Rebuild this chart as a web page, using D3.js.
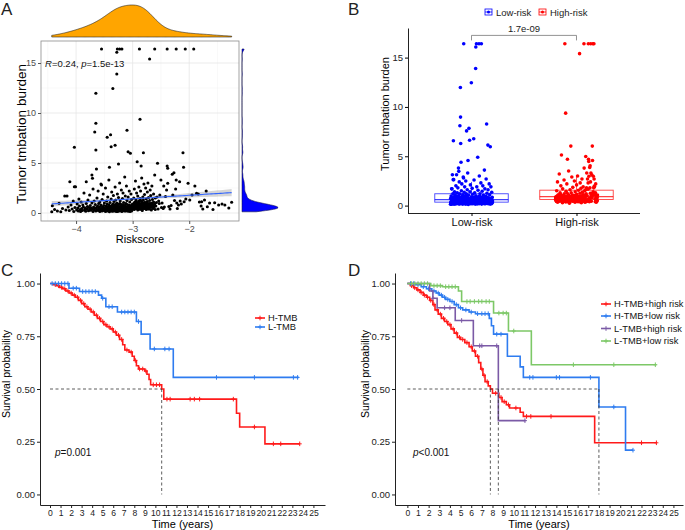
<!DOCTYPE html>
<html><head><meta charset="utf-8">
<script src="https://cdn.jsdelivr.net/npm/d3@7"></script>
<style>body{margin:0;background:#fff}svg{font-family:"Liberation Sans",Arial,sans-serif}</style>
</head><body><svg id="c" width="685" height="530"></svg>
<script>
// ---------------- DATA ----------------
const riskCutoff = -3.0;
const groupNames = ["Low-risk", "High-risk"];
// [riskscore, tumor mutation burden]
const scatterPoints = [
[-4.43,0.13],[-4.42,0.73],[-4.38,0.35],[-4.33,0.2],[-4.30,0.97],[-4.27,0.13],[-4.24,0.45],[-4.2,1.7],[-4.18,0.3],[-4.16,1.7],[-4.14,0.6],[-4.12,0.25],[-4.11,3.13],[-4.09,0.8],[-4.07,0.4],[-4.05,1.2],[-4.04,0.15],[-4.03,2.63],[-4.01,2.63],[-4.02,0.55],[-4.03,6.57],
[-3.99,0.3],[-3.98,0.9],[-3.97,0.5],[-3.96,0.2],[-3.95,1.4],[-3.94,0.7],[-3.93,0.35],[-3.92,0.15],[-3.91,1.1],[-3.90,0.45],[-3.89,0.25],[-3.88,0.8],[-3.87,0.6],[-3.86,2.0],[-3.85,0.3],[-3.84,0.5],[-3.83,0.18],[-3.82,3.13],[-3.82,0.95],[-3.81,0.4],[-3.80,0.65],[-3.79,1.3],[-3.78,0.22],[-3.77,0.55],[-3.76,0.35],[-3.76,1.8],[-3.75,0.75],[-3.74,0.28],[-3.73,0.5],[-3.72,3.8],[-3.71,3.47],[-3.72,1.0],[-3.71,0.4],[-3.70,0.15],[-3.70,2.4],
[-3.69,0.6],[-3.68,0.3],[-3.68,1.2],[-3.67,8.1],[-3.67,0.45],[-3.66,0.85],[-3.65,11.97],[-3.65,8.97],[-3.65,6.3],[-3.64,4.4],[-3.65,0.2],[-3.64,0.55],[-3.63,1.5],[-3.63,0.35],[-3.62,0.7],[-3.61,2.2],[-3.61,0.25],[-3.60,0.5],[-3.60,0.95],[-3.59,0.4],[-3.58,0.15],[-3.58,1.1],[-3.57,0.65],[-3.57,0.3],[-3.56,2.9],[-3.56,0.8],[-3.55,2.8],[-3.55,16.4],[-3.55,0.45],[-3.54,0.2],[-3.54,1.35],[-3.53,0.6],[-3.52,0.35],[-3.52,1.9],[-3.51,0.75],[-3.51,0.25],[-3.50,0.5],[-3.50,1.0],[-3.49,0.4],[-3.48,0.15],[-3.48,2.5],[-3.47,0.7],[-3.47,0.3],[-3.46,1.2],[-3.46,0.55],[-3.45,7.57],[-3.45,0.9],[-3.45,0.2],[-3.44,0.45],[-3.44,1.6],[-3.43,0.65],[-3.43,0.3],[-3.42,3.3],[-3.42,0.8],[-3.41,4.57],[-3.41,0.4],[-3.41,0.12],[-3.40,1.05],[-3.40,0.55],[-3.39,7.83],[-3.39,0.25],
[-3.38,6.63],[-3.38,0.7],[-3.38,1.4],[-3.37,0.35],[-3.37,2.1],[-3.36,0.5],[-3.36,0.18],[-3.35,12.45],[-3.35,0.9],[-3.35,0.6],[-3.34,1.75],[-3.34,0.3],[-3.33,0.45],[-3.33,1.15],[-3.32,0.8],[-3.32,0.22],[-3.31,6.77],[-3.31,0.55],[-3.31,2.6],[-3.30,0.4],[-3.30,1.3],[-3.29,0.65],[-3.29,0.15],[-3.28,13.9],[-3.28,16.07],[-3.28,1.0],[-3.28,0.35],[-3.27,16.4],[-3.27,0.5],[-3.27,1.9],[-3.26,0.75],[-3.26,0.25],[-3.25,4.9],[-3.25,0.6],[-3.25,1.55],[-3.24,0.4],[-3.24,0.9],[-3.23,16.4],[-3.23,0.2],[-3.23,3.0],[-3.22,0.55],[-3.22,1.2],[-3.21,0.7],[-3.21,0.3],[-3.20,2.3],[-3.20,0.45],[-3.19,16.4],[-3.19,0.85],[-3.19,0.15],[-3.18,1.45],[-3.18,0.6],[-3.17,0.35],[-3.17,2.0],[-3.16,0.5],[-3.16,1.05],[-3.15,0.25],[-3.15,0.75],[-3.14,3.6],[-3.14,0.4],[-3.13,1.7],[-3.13,0.6],[-3.12,0.2],[-3.12,0.95],[-3.11,0.5],[-3.11,2.7],[-3.10,8.27],[-3.10,0.3],[-3.10,1.25],[-3.09,0.65],[-3.09,0.45],[-3.08,6.13],[-3.08,1.6],[-3.08,0.18],[-3.07,0.8],[-3.07,0.35],[-3.06,2.2],[-3.06,0.55],[-3.05,1.1],[-3.05,0.28],[-3.04,5.97],[-3.04,0.7],[-3.04,0.42],[-3.03,1.9],[-3.03,0.6],[-3.02,0.2],[-3.02,1.35],[-3.01,0.5],[-3.01,0.85],
[-3.395,0.42],[-3.385,0.28],[-3.375,0.62],[-3.365,0.75],[-3.355,0.33],[-3.345,0.52],[-3.335,0.2],[-3.325,0.68],[-3.315,0.4],[-3.305,0.85],[-3.295,0.3],[-3.285,0.58],[-3.275,0.45],[-3.265,0.16],[-3.255,0.72],[-3.245,0.36],[-3.235,0.55],[-3.225,0.95],[-3.215,0.25],[-3.205,0.64],[-3.195,0.48],[-3.185,0.3],[-3.175,0.78],[-3.165,0.38],[-3.155,0.58],[-3.145,0.2],[-3.135,0.7],[-3.125,0.43],[-3.115,0.88],[-3.105,0.33],[-3.095,0.6],[-3.085,0.26],[-3.075,0.5],[-3.065,0.74],[-3.055,0.4],[-3.045,0.15],[-3.035,0.62],[-3.025,0.35],[-3.015,0.8],[-3.005,0.46],
[-3.39,0.58],[-3.37,0.22],[-3.35,0.4],[-3.33,0.66],[-3.31,0.3],[-3.29,0.5],[-3.27,0.82],[-3.25,0.27],[-3.23,0.45],[-3.21,0.6],[-3.19,0.38],[-3.17,0.7],[-3.15,0.5],[-3.13,0.32],[-3.11,0.9],[-3.09,0.55],[-3.07,0.24],[-3.05,0.65],[-3.03,0.4],[-3.01,0.3],
[-2.99,0.9],[-2.99,0.5],[-2.98,1.5],[-2.98,0.7],[-2.97,2.4],[-2.97,0.35],[-2.96,1.1],[-2.96,0.6],[-2.95,0.85],[-2.95,3.2],[-2.94,0.45],[-2.94,1.3],[-2.93,0.75],[-2.93,2.0],[-2.92,5.13],[-2.92,0.55],[-2.92,1.0],[-2.91,0.3],[-2.91,1.7],[-2.90,0.95],[-2.90,0.65],[-2.89,2.6],[-2.89,1.2],[-2.88,16.4],[-2.88,0.5],[-2.87,9.37],[-2.87,0.8],[-2.87,1.45],[-2.86,0.4],[-2.86,2.2],[-2.85,4.7],[-2.85,0.9],[-2.85,0.6],[-2.84,1.1],[-2.84,3.5],[-2.83,0.7],[-2.83,0.25],[-2.82,1.6],[-2.82,0.85],[-2.81,6.03],[-2.81,0.55],[-2.81,1.3],[-2.80,2.9],[-2.80,0.95],[-2.79,0.45],[-2.79,1.85],[-2.78,0.75],[-2.78,1.05],[-2.77,0.6],[-2.77,2.5],[-2.76,0.35],[-2.76,1.4],[-2.75,0.9],[-2.75,0.65],[-2.74,2.1],[-2.74,1.15],[-2.73,0.5],[-2.73,3.0],[-2.72,0.8],[-2.72,1.55],[-2.71,0.7],[-2.70,15.4],[-2.70,0.4],[-2.70,1.25],[-2.69,2.3],[-2.69,0.95],[-2.68,0.6],[-2.68,1.75],[-2.67,0.85],[-2.67,0.3],[-2.66,1.0],[-2.66,2.7],[-2.65,0.55],[-2.65,1.35],[-2.64,0.75],[-2.64,0.45],[-2.63,1.9],[-2.63,1.1],[-2.62,0.65],[-2.61,16.4],[-2.61,3.8],[-2.61,0.9],[-2.60,1.5],[-2.60,0.35],
[-2.995,0.78],[-2.985,0.42],[-2.975,1.0],[-2.965,0.62],[-2.955,0.88],[-2.945,0.55],[-2.935,1.15],[-2.925,0.7],[-2.915,0.48],[-2.905,0.82],[-2.895,0.6],[-2.885,0.95],[-2.875,0.38],[-2.865,0.72],[-2.855,1.25],[-2.845,0.52],[-2.835,0.86],[-2.825,0.65],[-2.815,0.45],[-2.805,0.78],[-2.795,1.05],[-2.785,0.58],[-2.775,0.88],[-2.765,0.5],[-2.755,0.7],[-2.745,0.95],[-2.735,0.6],[-2.725,0.4],[-2.715,0.8],[-2.705,0.66],
[-2.998,0.62],[-2.988,0.85],[-2.978,0.48],[-2.968,0.75],[-2.958,0.95],[-2.948,0.68],[-2.938,0.52],[-2.928,0.88],[-2.918,0.72],[-2.908,0.42],[-2.898,1.02],[-2.888,0.64],[-2.878,0.8],[-2.868,0.56],[-2.858,0.92],[-2.848,0.7],[-2.838,0.46],[-2.828,0.98],[-2.818,0.6],[-2.808,0.84],[-2.798,0.66],[-2.788,0.5],[-2.778,0.9],[-2.768,0.74],[-2.758,0.58],[-2.748,1.08],[-2.738,0.68],[-2.728,0.8],[-2.718,0.54],[-2.708,0.94],
[-2.69,0.62],[-2.67,0.78],[-2.65,0.9],[-2.63,0.55],[-2.61,0.72],
[-2.59,0.7],[-2.58,1.05],[-2.57,1.6],[-2.56,4.97],[-2.55,0.4],[-2.54,1.2],[-2.53,0.95],[-2.52,1.8],[-2.50,3.3],[-2.49,0.55],[-2.48,1.0],[-2.46,0.45],[-2.45,2.7],[-2.44,0.6],[-2.42,1.65],[-2.40,2.3],[-2.39,16.4],[-2.39,4.7],[-2.38,4.47],[-2.38,2.97],[-2.36,0.65],[-2.34,0.4],[-2.32,0.75],[-2.30,3.87],[-2.29,1.8],[-2.27,4.03],[-2.26,1.25],[-2.24,2.4],[-2.23,16.4],[-2.23,3.3],[-2.22,1.0],[-2.21,0.45],
[-2.19,0.8],[-2.17,3.13],[-2.16,1.2],[-2.14,0.9],[-2.11,6.03],[-2.10,4.57],[-2.09,1.13],[-2.07,16.4],[-2.06,1.4],[-2.02,2.97],[-1.99,1.3],[-1.95,1.8],[-1.92,16.4],[-1.90,2.7],[-1.87,1.97],[-1.84,1.9],[-1.82,1.1],
[-1.79,0.7],[-1.78,1.13],[-1.76,0.4],[-1.73,1.3],[-1.70,2.2],[-1.68,0.63],[-1.64,1.0],[-1.58,0.35],[-1.55,1.03],[-1.48,0.8],[-1.42,0.9],[-1.37,0.8],[-1.30,0.5],[-1.25,1.07]
];
const aXTicks = [-4, -3, -2];
const aXMinor = [-4.5, -3.5, -2.5, -1.5];
const aYTicks = [0, 5, 10, 15];
const aYMinor = [2.5, 7.5, 12.5];
const corR = "0.24", corP = "1.5e-13";
// linear fit: [intercept, slope], and confidence half-width terms [at centre, per unit distance]
const fitCoef = [2.48, 0.354];
const fitCentre = -3.05;
const fitSE = [0.09, 0.19];
const bYTicks = [0, 5, 10, 15];
const bTestP = "1.7e-09";
const bBracketY = 17.25;

const timeTicks = [0,1,2,3,4,5,6,7,8,9,10,11,12,13,14,15,16,17,18,19,20,21,22,23,24,25];
const survTicks = [0, 0.25, 0.5, 0.75, 1];

// Panel C
const cHighSteps = [[0,1],[0.3,0.995],[0.6,0.99],[0.9,0.982],[1.2,0.975],[1.5,0.965],[1.8,0.955],[2.1,0.945],[2.4,0.935],[2.7,0.92],[3.0,0.905],[3.3,0.89],[3.6,0.878],[3.9,0.865],[4.2,0.85],[4.5,0.835],[4.8,0.82],[5.1,0.805],[5.4,0.795],[5.7,0.785],[6.0,0.77],[6.3,0.755],[6.6,0.735],[6.9,0.71],[7.1,0.685],[7.5,0.675],[7.8,0.655],[8.0,0.635],[8.2,0.61],[8.4,0.595],[9.0,0.585],[9.2,0.57],[9.4,0.545],[9.55,0.52],[10.6,0.50],[10.8,0.452],[17.7,0.385],[18.0,0.32],[20.4,0.24]];
const cHighEnd = 23.7;
const cHighCensor = [0.5,0.8,1.1,1.4,1.7,2.0,2.3,2.6,2.9,3.2,3.5,3.8,4.1,4.4,4.7,5.0,5.3,5.6,5.9,6.2,6.5,6.8,7.3,7.7,8.1,8.5,8.8,9.1,9.8,10.1,10.4,11.1,11.4,13.3,13.7,14.2,17.4,19.4,21.2,21.9,23.7];
const cLowSteps = [[0,1],[1.8,0.978],[2.8,0.962],[4.6,0.945],[4.9,0.93],[5.3,0.89],[6.4,0.865],[8.2,0.82],[8.65,0.76],[9.5,0.69],[11.7,0.555]];
const cLowEnd = 23.6;
const cLowCensor = [0.2,0.5,0.8,1.1,1.4,1.7,2.2,2.5,3.1,3.4,3.7,4.0,4.3,5.0,5.6,5.9,6.8,7.1,7.4,7.7,8.0,8.4,9.9,10.9,11.3,15.8,19.4,23.1,23.5];
const cLabels = ["H-TMB", "L-TMB"];
const cPText = "=0.001";

// Panel D
const dHHSteps = [[0,1],[0.3,0.99],[0.6,0.98],[0.9,0.97],[1.2,0.958],[1.5,0.945],[1.8,0.935],[2.1,0.92],[2.4,0.9],[2.6,0.875],[2.9,0.855],[3.2,0.835],[3.5,0.82],[3.8,0.805],[4.1,0.785],[4.4,0.765],[4.7,0.745],[5.0,0.735],[5.4,0.72],[5.8,0.70],[6.1,0.68],[6.4,0.655],[6.7,0.625],[6.9,0.595],[7.1,0.565],[7.3,0.535],[7.6,0.515],[7.8,0.5],[8.0,0.48],[8.6,0.46],[8.9,0.44],[9.3,0.425],[9.6,0.41],[10.6,0.39],[10.9,0.37],[17.6,0.245]];
const dHHEnd = 23.4;
const dHHCensor = [0.4,0.7,1.0,1.3,1.6,1.9,2.2,2.5,2.8,3.1,3.4,3.7,4.0,4.3,4.6,4.9,5.2,5.6,6.0,6.3,6.6,7.0,7.2,7.5,8.3,8.8,9.1,9.5,10.2,11.2,11.6,13.5,22.0,23.4];
const dHLSteps = [[0,1],[0.8,0.995],[1.3,0.985],[1.8,0.975],[2.3,0.965],[2.7,0.955],[3.0,0.945],[3.3,0.935],[3.6,0.925],[4.0,0.915],[4.4,0.9],[4.8,0.885],[5.2,0.875],[5.8,0.865],[6.4,0.857],[7.7,0.835],[7.9,0.80],[8.1,0.76],[9.4,0.655],[10.6,0.605],[10.9,0.555],[18.0,0.415],[20.5,0.21]];
const dHLEnd = 21.2;
const dHLCensor = [0.3,0.6,1.0,1.5,2.0,2.5,2.9,3.2,3.5,3.8,4.2,4.6,5.0,5.5,6.0,6.6,7.0,7.3,7.6,8.4,8.8,11.5,11.8,14.0,14.3,17.2,19.4,21.2];
const dLHSteps = [[0,1],[2.1,0.965],[2.4,0.93],[2.8,0.885],[4.5,0.825],[6.2,0.705],[8.55,0.35]];
const dLHEnd = 11.1;
const dLHCensor = [2.4,3.5,4.0,5.1,6.8,7.0,8.4,11.05];
const dLLSteps = [[0,1],[2.2,0.99],[3.3,0.985],[4.8,0.965],[5.1,0.915],[8.1,0.86],[9.5,0.775],[11.65,0.615]];
const dLLEnd = 23.4;
const dLLCensor = [0.4,0.7,1.0,1.3,1.6,1.9,2.5,2.8,3.1,3.6,3.9,4.2,4.5,5.6,5.9,6.3,6.7,7.0,7.4,7.7,8.6,9.0,9.3,10.0,15.6,19.4,23.3];
const dLabels = ["H-TMB+high risk", "H-TMB+low risk", "L-TMB+high risk", "L-TMB+low risk"];
const dPText = "<0.001";

// ---------------- DRAW ----------------
const svg = d3.select("#c");
const FF = "Liberation Sans, Arial, sans-serif";
const panelLabel = (t, x, y) => svg.append("text").attr("x", x).attr("y", y).attr("font-size", 17).attr("fill", "#222").text(t);

// ===== Panel A =====
{
  const g = svg.append("g");
  const ax = d3.scaleLinear().domain([-4.62, -1.12]).range([41, 239]);
  const ay = d3.scaleLinear().domain([-0.8, 17.2]).range([221, 41]);
  const [L, R] = ax.range(), [B, T] = ay.range();
  g.selectAll(".vmn").data(aXMinor).join("line").attr("x1", ax).attr("x2", ax).attr("y1", T).attr("y2", B).attr("stroke", "#f2f2f2").attr("stroke-width", 0.5);
  g.selectAll(".hmn").data(aYMinor).join("line").attr("y1", ay).attr("y2", ay).attr("x1", L).attr("x2", R).attr("stroke", "#f2f2f2").attr("stroke-width", 0.5);
  g.selectAll(".vmj").data(aXTicks).join("line").attr("x1", ax).attr("x2", ax).attr("y1", T).attr("y2", B).attr("stroke", "#e6e6e6").attr("stroke-width", 0.8);
  g.selectAll(".hmj").data(aYTicks).join("line").attr("y1", ay).attr("y2", ay).attr("x1", L).attr("x2", R).attr("stroke", "#e6e6e6").attr("stroke-width", 0.8);

  const xs = scatterPoints.map(d => d[0]), ys = scatterPoints.map(d => d[1]);
  const xr = d3.extent(xs);
  const fit = d3.range(0, 81).map(i => {
    const x = xr[0] + (xr[1] - xr[0]) * i / 80;
    const yh = fitCoef[0] + fitCoef[1] * x;
    const hw = Math.sqrt(fitSE[0] ** 2 + (fitSE[1] * (x - fitCentre)) ** 2);
    return [x, yh, yh - hw, yh + hw];
  });
  g.append("path").datum(fit).attr("d", d3.area().x(d => ax(d[0])).y0(d => ay(d[2])).y1(d => ay(d[3]))).attr("fill", "#999").attr("opacity", 0.4);

  g.selectAll(".pt").data(scatterPoints).join("circle").attr("cx", d => ax(d[0])).attr("cy", d => ay(d[1])).attr("r", 1.55).attr("fill", "#000");
  g.append("path").datum(fit).attr("d", d3.line().x(d => ax(d[0])).y(d => ay(d[1]))).attr("fill", "none").attr("stroke", "#3366FF").attr("stroke-width", 1.1);

  g.append("rect").attr("x", L).attr("y", T).attr("width", R - L).attr("height", B - T).attr("fill", "none").attr("stroke", "#8c8c8c").attr("stroke-width", 0.8);

  const xa = g.append("g").attr("transform", `translate(0,${B})`).call(d3.axisBottom(ax).tickValues(aXTicks).tickFormat(d3.format("d")).tickSize(3).tickPadding(2));
  const ya = g.append("g").attr("transform", `translate(${L},0)`).call(d3.axisLeft(ay).tickValues(aYTicks).tickSize(3).tickPadding(2));
  [xa, ya].forEach(a => { a.select(".domain").remove(); a.selectAll("line").attr("stroke", "#555"); a.selectAll("text").attr("fill", "#4d4d4d").attr("font-size", 9).attr("font-family", FF); });

  g.append("text").attr("x", (L + R) / 2).attr("y", 243).attr("text-anchor", "middle").attr("font-size", 11).text("Riskscore");
  g.append("text").attr("transform", `translate(26,134) rotate(-90)`).attr("text-anchor", "middle").attr("font-size", 13.5).text("Tumor tmbation burden");
  const ct = g.append("text").attr("x", 45).attr("y", ay(15) + 3.5).attr("font-size", 9.5).attr("fill", "#111");
  ct.append("tspan").attr("font-style", "italic").text("R");
  ct.append("tspan").text("=" + corR + ", ");
  ct.append("tspan").attr("font-style", "italic").text("p");
  ct.append("tspan").text("=" + corP);

  const kde = (vals, pts, adjust) => {
    const sd = d3.deviation(vals), sorted = vals.slice().sort(d3.ascending);
    const iqr = d3.quantile(sorted, 0.75) - d3.quantile(sorted, 0.25);
    const bw = adjust * 0.9 * Math.min(sd, iqr / 1.34) * Math.pow(vals.length, -0.2);
    return pts.map(p => [p, d3.mean(vals, v => Math.exp(-0.5 * ((p - v) / bw) ** 2)) / (bw * Math.sqrt(2 * Math.PI))]);
  };
  const topPts = d3.range(0, 201).map(i => xr[0] + (xr[1] - xr[0]) * i / 200);
  const topD = kde(xs, topPts, 1.5);
  const ty = d3.scaleLinear().domain([0, d3.max(topD, d => d[1])]).range([37, 5]);
  g.append("path").datum(topD).attr("d", d3.area().x(d => ax(d[0])).y0(ty(0)).y1(d => ty(d[1]))).attr("fill", "#FFA500").attr("stroke", "#222").attr("stroke-width", 0.6);
  const yr = d3.extent(ys);
  const rPts = d3.range(0, 401).map(i => yr[0] + (yr[1] - yr[0]) * i / 400);
  const rD = kde(ys, rPts, 1);
  const rx = d3.scaleLinear().domain([0, d3.max(rD, d => d[1])]).range([242, 278]);
  g.append("path").datum(rD).attr("d", d3.area().y(d => ay(d[0])).x0(rx(0)).x1(d => rx(d[1]))).attr("fill", "#0000FF").attr("stroke", "#1a1a4d").attr("stroke-width", 0.6);
  panelLabel("A", 1, 15);
}

// ===== Panel B =====
{
  const g = svg.append("g");
  const by = d3.scaleLinear().domain([-0.75, 18.0]).range([213, 28]);
  const bx = d3.scalePoint().domain(groupNames).range([408, 640]).padding(0.605);
  const step = bx.step();
  const colors = { "Low-risk": "#0000FF", "High-risk": "#FF0000" };
  const groups = groupNames.map(name => {
    const pts = scatterPoints.filter(d => (name === "Low-risk") ? d[0] < riskCutoff : d[0] >= riskCutoff).slice().sort((a, b) => a[0] - b[0]);
    return { name, pts };
  });
  groups.forEach(gr => {
    const v = gr.pts.map(d => d[1]).sort(d3.ascending);
    const q1 = d3.quantile(v, 0.25), md = d3.quantile(v, 0.5), q3 = d3.quantile(v, 0.75);
    const iqr = q3 - q1;
    const lo = d3.min(v.filter(x => x >= q1 - 1.5 * iqr)), hi = d3.max(v.filter(x => x <= q3 + 1.5 * iqr));
    const cx = bx(gr.name), hw = step * 0.35, c = colors[gr.name];
    const bg = g.append("g").attr("stroke", c).attr("stroke-opacity", 0.75).attr("fill", "none").attr("stroke-width", 0.9);
    bg.append("line").attr("x1", cx).attr("x2", cx).attr("y1", by(q3)).attr("y2", by(hi));
    bg.append("line").attr("x1", cx).attr("x2", cx).attr("y1", by(q1)).attr("y2", by(lo));
    bg.append("rect").attr("x", cx - hw).attr("width", 2 * hw).attr("y", by(q3)).attr("height", by(q1) - by(q3));
    bg.append("line").attr("x1", cx - hw).attr("x2", cx + hw).attr("y1", by(md)).attr("y2", by(md)).attr("stroke-width", 1.3);
    const nn = gr.pts.length;
    g.selectAll(null).data(gr.pts).join("circle")
      .attr("cx", (d, i) => cx + (i / (nn - 1) - 0.5) * 2 * 0.2 * step)
      .attr("cy", d => by(d[1])).attr("r", 1.8).attr("fill", c);
  });
  const xa = g.append("g").attr("transform", "translate(0,213)").call(d3.axisBottom(bx).tickSize(3).tickPadding(2).tickSizeOuter(0));
  const ya = g.append("g").attr("transform", "translate(408,0)").call(d3.axisLeft(by).tickValues(bYTicks).tickSize(3).tickPadding(2).tickSizeOuter(0));
  xa.select(".domain").attr("d", "M408,0.5H640").attr("stroke", "#222");
  ya.select(".domain").attr("stroke", "#222");
  xa.selectAll("text").attr("font-size", 11).attr("fill", "#111").attr("font-family", FF);
  ya.selectAll("text").attr("font-size", 9.5).attr("fill", "#222").attr("font-family", FF);
  g.append("text").attr("transform", "translate(389,114) rotate(-90)").attr("text-anchor", "middle").attr("font-size", 11).text("Tumor tmbation burden");
  const yb = by(bBracketY);
  g.append("path").attr("d", `M${bx(groupNames[0])},${yb + 5}V${yb}H${bx(groupNames[1])}V${yb + 5}`).attr("fill", "none").attr("stroke", "#777").attr("stroke-width", 0.8);
  g.append("text").attr("x", (bx(groupNames[0]) + bx(groupNames[1])) / 2).attr("y", yb - 3).attr("text-anchor", "middle").attr("font-size", 9.5).attr("fill", "#222").text(bTestP);
  const lg = [{ name: groupNames[0], x: 485 }, { name: groupNames[1], x: 539 }];
  lg.forEach(l => {
    const c = colors[l.name];
    g.append("rect").attr("x", l.x).attr("y", 9).attr("width", 7).attr("height", 6).attr("fill", "none").attr("stroke", c).attr("stroke-width", 0.8);
    g.append("line").attr("x1", l.x).attr("x2", l.x + 7).attr("y1", 12).attr("y2", 12).attr("stroke", c).attr("stroke-width", 0.8);
    g.append("circle").attr("cx", l.x + 3.5).attr("cy", 12).attr("r", 1.5).attr("fill", c);
    g.append("text").attr("x", l.x + 11).attr("y", 15.5).attr("font-size", 9.5).attr("fill", "#222").text(l.name);
  });
  panelLabel("B", 348, 15);
}

// ===== KM panels =====
function survAt(steps, t) { let s = 1; for (const [tt, ss] of steps) { if (tt <= t) s = ss; else break; } return s; }
function kmPanel(opt) {
  const g = svg.append("g");
  const x = d3.scaleLinear().domain(opt.xdom).range(opt.xr);
  const y = d3.scaleLinear().domain([-0.05, 1.05]).range([505, 273]);
  const xa = g.append("g").attr("transform", "translate(0,505)").call(d3.axisBottom(x).tickValues(timeTicks).tickSize(3).tickPadding(2).tickSizeOuter(0));
  const ya = g.append("g").attr("transform", `translate(${opt.xr[0]},0)`).call(d3.axisLeft(y).tickValues(survTicks).tickFormat(d3.format(".2f")).tickSize(3).tickPadding(2).tickSizeOuter(0));
  [xa, ya].forEach(a => { a.select(".domain").attr("stroke", "#222").attr("stroke-width", 1); a.selectAll("line").attr("stroke", "#222"); a.selectAll("text").attr("fill", "#222").attr("font-family", FF); });
  xa.selectAll("text").attr("font-size", 8.6);
  ya.selectAll("text").attr("font-size", 9.5);
  const cxm = (opt.xr[0] + opt.xr[1]) / 2;
  g.append("text").attr("x", cxm).attr("y", 528).attr("text-anchor", "middle").attr("font-size", 11).text("Time (years)");
  g.append("text").attr("transform", `translate(${opt.ylabX},374) rotate(-90)`).attr("text-anchor", "middle").attr("font-size", 10.5).text("Survival probability");

  opt.series.forEach(sr => {
    const pts = sr.steps.concat([[sr.end, sr.steps[sr.steps.length - 1][1]]]);
    g.append("path").datum(pts).attr("d", d3.line().curve(d3.curveStepAfter).x(d => x(d[0])).y(d => y(d[1])))
      .attr("fill", "none").attr("stroke", sr.color).attr("stroke-width", 1.6);
    g.selectAll(null).data(sr.censor).join("path")
      .attr("d", t => { const px = x(t), py = y(survAt(sr.steps, t)); return `M${px - 2},${py}H${px + 2}M${px},${py - 2.3}V${py + 2.3}`; })
      .attr("stroke", sr.color).attr("stroke-width", 1);
  });
  const meds = opt.series.map(sr => { const f = sr.steps.find(d => d[1] <= 0.5); return f ? f[0] : null; }).filter(d => d !== null);
  if (meds.length) {
    g.append("line").attr("x1", x(0)).attr("x2", x(d3.max(meds))).attr("y1", y(0.5)).attr("y2", y(0.5)).attr("stroke", "#333").attr("stroke-width", 0.8).attr("stroke-dasharray", "3,2.5");
    meds.forEach(m => g.append("line").attr("x1", x(m)).attr("x2", x(m)).attr("y1", y(0.5)).attr("y2", y(0)).attr("stroke", "#333").attr("stroke-width", 0.8).attr("stroke-dasharray", "3,2.5"));
  }
  const pt = g.append("text").attr("x", opt.pX).attr("y", 456).attr("font-size", 10).attr("fill", "#111");
  pt.append("tspan").attr("font-style", "italic").text("p");
  pt.append("tspan").text(opt.pText);
  opt.series.forEach((sr, i) => {
    const ly = opt.legY[i], lx = opt.legX;
    g.append("line").attr("x1", lx).attr("x2", lx + 10).attr("y1", ly).attr("y2", ly).attr("stroke", sr.color).attr("stroke-width", 1.6);
    g.append("path").attr("d", `M${lx + 3},${ly}H${lx + 7}M${lx + 5},${ly - 2.3}V${ly + 2.3}`).attr("stroke", sr.color).attr("stroke-width", 1);
    g.append("text").attr("x", lx + 13).attr("y", ly + 3.3).attr("font-size", 9.3).attr("fill", "#111").text(sr.label);
  });
}
kmPanel({
  xdom: [-0.95, 26.1], xr: [40, 325], ylabX: 10, pX: 55, pText: cPText, legX: 255, legY: [318, 327],
  series: [
    { label: cLabels[0], color: "#FF1A1A", steps: cHighSteps, end: cHighEnd, censor: cHighCensor },
    { label: cLabels[1], color: "#2E7CF0", steps: cLowSteps, end: cLowEnd, censor: cLowCensor }
  ]
});
panelLabel("C", 1, 276);
kmPanel({
  xdom: [-1.16, 25.9], xr: [395, 683], ylabX: 369, pX: 413, pText: dPText, legX: 601, legY: [304, 316, 328.5, 341],
  series: [
    { label: dLabels[0], color: "#FF1A1A", steps: dHHSteps, end: dHHEnd, censor: dHHCensor },
    { label: dLabels[1], color: "#2E7CF0", steps: dHLSteps, end: dHLEnd, censor: dHLCensor },
    { label: dLabels[2], color: "#7B5AA6", steps: dLHSteps, end: dLHEnd, censor: dLHCensor },
    { label: dLabels[3], color: "#7DC867", steps: dLLSteps, end: dLLEnd, censor: dLLCensor }
  ]
});
panelLabel("D", 348, 276);
</script></body></html>
